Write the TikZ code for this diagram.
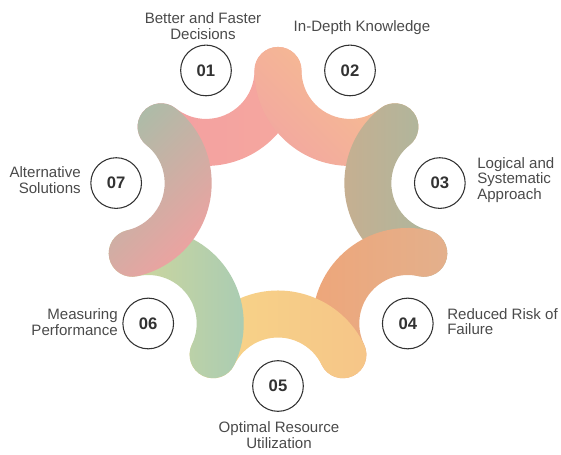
\documentclass[tikz,border=0pt]{standalone}
\usepackage{fontspec}
\setmainfont{Liberation Sans}
\usetikzlibrary{calc}
\definecolor{txtgray}{RGB}{74,74,74}
\definecolor{numgray}{RGB}{50,50,50}
\definecolor{pinkL}{RGB}{242,158,162}
\definecolor{pinkR}{RGB}{246,168,158}
\definecolor{peachL}{RGB}{242,168,160}
\definecolor{peachR}{RGB}{247,194,140}
\definecolor{oliveL}{RGB}{201,174,143}
\definecolor{oliveR}{RGB}{168,184,160}
\definecolor{orangeL}{RGB}{238,166,122}
\definecolor{orangeR}{RGB}{227,176,140}
\definecolor{yellowL}{RGB}{247,214,136}
\definecolor{yellowR}{RGB}{246,197,136}
\definecolor{greenL}{RGB}{213,216,152}
\definecolor{greenR}{RGB}{166,203,181}
\definecolor{sageL}{RGB}{172,188,168}
\definecolor{sageR}{RGB}{242,160,160}
% one petal: circle node, start angle, shading
\newcommand{\petal}[3]{%
  \shade[#3] (#1.center) ++(#2:95.5)
    arc[start angle=#2, delta angle=128.57, radius=95.5]
    arc[start angle=#2+128.57, delta angle=180, radius=23.5]
    arc[start angle=#2+128.57, delta angle=-128.57, radius=48.5]
    arc[start angle=#2+180, delta angle=180, radius=23.5] -- cycle;}

\begin{document}
\begin{tikzpicture}[x=0.75pt,y=0.75pt,
    num/.style={circle,draw=numgray,line width=0.8pt,minimum size=38pt,inner sep=0pt,
      text=numgray,font=\fontsize{12.5}{14}\selectfont\bfseries},
    lbl/.style={inner sep=0pt,text=txtgray,font=\fontsize{11.3}{11.6}\selectfont}]
  \useasboundingbox (0,0) rectangle (561,454);
  \coordinate (mid) at (278,234);
  \node[num] (n01) at ($(mid)+(115.71:166)$) {01};
  \node[num] (n02) at ($(mid)+(64.29:166)$) {02};
  \node[num] (n03) at ($(mid)+(12.86:166)$) {03};
  \node[num] (n04) at ($(mid)+(-38.57:166)$) {04};
  \node[num] (n05) at ($(mid)+(-90:166)$) {05};
  \node[num] (n06) at ($(mid)+(-141.43:166)$) {06};
  \node[num] (n07) at ($(mid)+(167.14:166)$) {07};
  % petals, each one laid over the one before
  \petal{n01}{231.43}{left color=pinkL,right color=pinkR}
  \petal{n02}{180}{top color=peachR,bottom color=peachL,shading angle=-45}
  \petal{n03}{128.57}{left color=oliveL,right color=oliveR}
  \petal{n04}{77.14}{left color=orangeL,right color=orangeR}
  \petal{n05}{25.71}{left color=yellowL,right color=yellowR}
  \petal{n06}{-25.71}{left color=greenL,right color=greenR}
  \petal{n07}{-77.14}{top color=sageL,bottom color=sageR,shading angle=45}
  % labels
  \node[lbl,align=center] (t01) at (203,428) {Better and Faster\\Decisions};
  \node[lbl] (t02) at (362,426.5) {In-Depth Knowledge};
  \node[lbl,align=left,anchor=west] (t03) at (477,274) {Logical and\\Systematic\\Approach};
  \node[lbl,align=left,anchor=west] (t04) at (447,132.5) {Reduced Risk of\\Failure};
  \node[lbl,align=center] (t05) at (279,19) {Optimal Resource\\Utilization};
  \node[lbl,align=right,anchor=east] (t06) at (118,132) {Measuring\\Performance};
  \node[lbl,align=right,anchor=east] (t07) at (81,274) {Alternative\\Solutions};
\end{tikzpicture}
\end{document}
